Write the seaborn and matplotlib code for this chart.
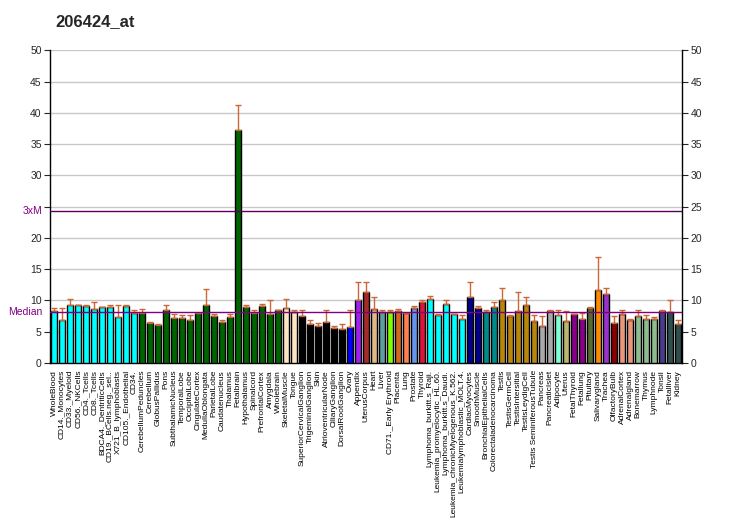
import matplotlib
matplotlib.use("Agg")
import matplotlib.pyplot as plt
import seaborn as sns
import numpy as np
import pandas as pd

title = "206424_at"
labels = ["WholeBlood", "CD14._Monocytes", "CD33._Myeloid", "CD56._NKCells", "CD4._Tcells",
          "CD8._Tcells", "BDCA4._DentriticCells", "CD19._BCells.neg._sel..", "X721_B_lymphoblasts",
          "CD105._Endothelial", "CD34.", "CerebellumPeduncles", "Cerebellum", "GlobusPallidus",
          "Pons", "SubthalamicNucleus", "TemporalLobe", "OccipitalLobe", "CingulateCortex",
          "MedullaOblongata", "ParietalLobe", "Caudatenucleus", "Thalamus", "Fetalbrain",
          "Hypothalamus", "Spinalcord", "PrefrontalCortex", "Amygdala", "Wholebrain",
          "SkeletalMuscle", "Tongue", "SuperiorCervicalGanglion", "TrigeminalGanglion", "Skin",
          "AtrioventricularNode", "CiliaryGanglion", "DorsalRootGanglion", "Ovary", "Appendix",
          "UterusCorpus", "Heart", "Liver", "CD71._Early Erythroid", "Placenta", "Lung",
          "Prostate", "Thyroid", "Lymphoma_burkitt.s_Raji.", "Leukemia_promyelocytic_HL.60.",
          "Lymphoma_burkitt.s_Daudi.", "Leukemia_chronicMyelogenous_K.562.",
          "Leukemialymphoblastic_MOLT.4.", "CardiacMyocytes", "SmoothMuscle",
          "BronchialEpithelialCells", "Colorectaladenocarcinoma", "Testis", "TestisGermCell",
          "TestisIntersitial", "TestisLeydigCell", "Testis SeminiferousTubule", "Pancreas",
          "PancreaticIslet", "Adipocyte", "Uterus", "FetalThyroid", "Fetallung", "Pituitary",
          "Salivarygland", "Trachea", "OlfactoryBulb", "AdrenalCortex", "Adrenalgland",
          "Bonemarrow", "Thymus", "Lymphnode", "Tonsil", "Fetalliver", "Kidney"]

values = [8.24, 6.8, 9.25, 9.25, 9.04, 8.56, 8.88, 8.88, 7.29, 9.04,
          7.92, 8.0, 6.38, 6.0, 8.4, 7.13, 7.13, 6.8, 8.0, 9.35,
          7.5, 6.54, 7.34, 37.3, 8.93, 7.97, 9.09, 7.81, 8.4, 8.72,
          8.08, 7.5, 6.22, 5.9, 6.54, 5.58, 5.42, 5.74, 10.15, 11.3,
          8.56, 8.08, 8.08, 8.24, 7.92, 8.72, 9.68, 10.3, 7.6, 9.5,
          7.76, 6.97, 10.5, 8.72, 8.08, 8.88, 10.15, 7.45, 8.24, 9.25,
          6.65, 5.85, 8.24, 7.6, 6.65, 7.76, 6.97, 8.72, 11.75, 10.96,
          6.33, 7.76, 6.8, 7.45, 6.97, 6.97, 8.24, 8.08, 6.17]

err_top = [8.8, 8.8, 10.2, 9.25, 9.25, 9.7, 8.88, 9.25, 9.25, 9.35,
           8.4, 8.7, 6.5, 6.2, 9.25, 7.8, 7.6, 7.6, 8.0, 11.9,
           7.8, 6.9, 7.9, 41.3, 9.25, 8.5, 9.45, 10.0, 8.4, 10.3,
           8.5, 8.5, 6.8, 6.4, 8.4, 5.85, 6.2, 8.4, 13.0, 12.9,
           10.5, 8.5, 8.4, 8.7, 7.92, 9.04, 10.0, 10.7, 7.9, 10.0,
           7.76, 7.6, 12.9, 9.04, 8.5, 9.7, 12.07, 7.6, 11.4, 10.5,
           7.6, 7.45, 8.5, 8.4, 8.24, 7.76, 7.92, 8.88, 16.9, 12.07,
           7.45, 8.5, 6.97, 8.5, 7.6, 7.29, 8.4, 10.15, 6.8]

colors = (["#00FFFF"] * 11 + ["#006400"] * 18 + ["#FFE4C4"] * 2 + ["#000000"] * 6 +
          ["#0000FF", "#A020F0", "#A52A2A", "#DEB887", "#5F9EA0", "#7FFF00", "#D2691E",
           "#FF7F50", "#6495ED", "#DC143C"] + ["#00FFFF"] * 5 + ["#00008B"] * 2 +
          ["#008B8B"] * 2 + ["#B8860B"] * 5 + ["#A9A9A9"] * 2 +
          ["#7FFFD4", "#BDB76B", "#8B008B", "#8B008B", "#556B2F", "#FF8C00", "#9932CC",
           "#8B0000", "#E9967A", "#E9967A", "#8FBC8F", "#8FBC8F", "#8FBC8F", "#483D8B",
           "#2F4F4F", "#2F4F4F"])

median_val = 8.08
three_m = 24.24

sns.set_style("white")
plt.rcParams['font.family'] = ['Liberation Sans', 'DejaVu Sans']

fig = plt.figure(figsize=(7.32, 5.30), dpi=100)
ax = fig.add_axes([50 / 732, 1 - 363 / 530, 632 / 732, 312.7 / 530])

df = pd.DataFrame({"tissue": labels, "value": values})
pal = dict(zip(labels, colors))
sns.barplot(data=df, x="tissue", y="value", hue="tissue", palette=pal, legend=False,
            width=0.82, edgecolor="black", linewidth=1.0, saturation=1, ax=ax, zorder=3)

x = np.arange(len(labels))
v = np.array(values)
up = np.array(err_top) - v
ax.errorbar(x, v, yerr=[np.zeros_like(up), up], fmt="none", ecolor="#CC6633",
            elinewidth=1.0, capsize=2.5, capthick=1.0, zorder=4)

ax.set_xlim(-0.5, len(labels) - 0.5)
ax.set_ylim(0, 50)
ax.set_yticks(np.arange(0, 51, 5))
for yv in np.arange(5, 51, 5):
    ax.axhline(yv, color="#C8C8C8", lw=1.0, zorder=1)
ax.axhline(median_val, color="#800080", lw=1.0, zorder=5)
ax.axhline(three_m, color="#5A005A", lw=1.0, zorder=5)

ax.text(-0.012, median_val, "Median", color="#800080", fontsize=7.5,
        ha="right", va="center", transform=ax.get_yaxis_transform())
ax.text(-0.012, three_m, "3xM", color="#800080", fontsize=7.5,
        ha="right", va="center", transform=ax.get_yaxis_transform())

ax.set_xticks(x)
ax.set_xticklabels(labels, rotation=90, fontsize=6.0)
ax.tick_params(axis="x", length=4, width=0.8, pad=1, colors="black")
ax.tick_params(axis="y", length=4, width=0.8, labelsize=7.5, pad=2,
               left=True, right=True, labelleft=True, labelright=True)
# the left "25" label is replaced by the 3xM label in the reference
ax.yaxis.get_major_ticks()[5].label1.set_visible(False)
ax.set_xlabel("")
ax.set_ylabel("")

for side in ["left", "right", "bottom"]:
    ax.spines[side].set_visible(True)
    ax.spines[side].set_color("black")
    ax.spines[side].set_linewidth(1.0)
ax.spines["top"].set_visible(False)
ax.grid(False)

fig.text(55 / 732, 1 - 22 / 530, title, fontsize=12, fontweight="bold",
         ha="left", va="center")

fig.savefig("out.png", dpi=100)
